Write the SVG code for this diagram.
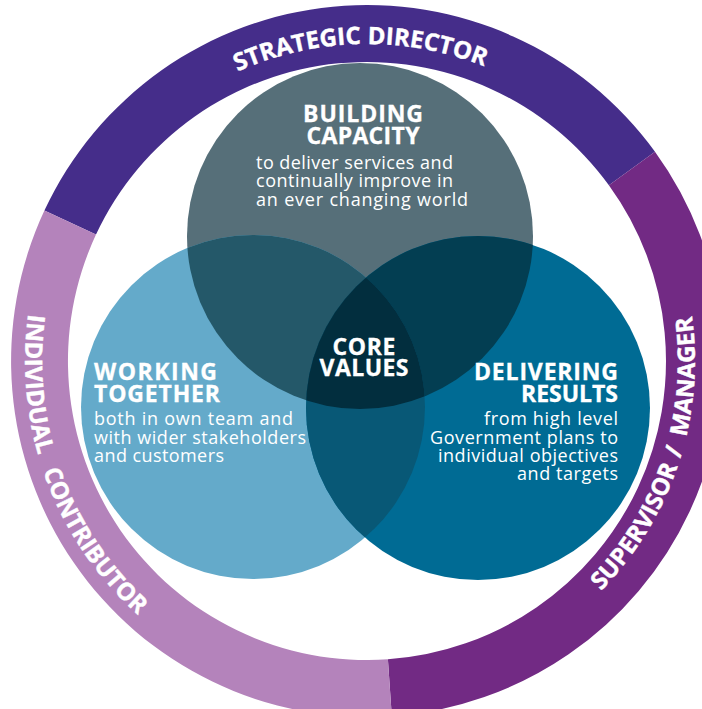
<svg xmlns="http://www.w3.org/2000/svg" xmlns:xlink="http://www.w3.org/1999/xlink" width="702" height="709" viewBox="0 0 702 709">
  <style>
    .ring-label { font-family: "Open Sans", "Liberation Sans", sans-serif; font-weight: 700; font-size: 24px; fill: #ffffff; stroke: #ffffff; stroke-width: 0.4px; }
    .head { font-family: "Open Sans", "Liberation Sans", sans-serif; font-weight: 700; font-size: 23px; fill: #ffffff; stroke: #ffffff; stroke-width: 0.3px; }
    .body { font-family: "Open Sans", "Liberation Sans", sans-serif; font-weight: 400; font-size: 18px; fill: #ffffff; }
    .mid { text-anchor: middle; }
    .end { text-anchor: end; }
  </style>
  <defs>
    <!-- role ring text baselines around the ring centre (367,361) -->
    <path id="arc-top" d="M 50 361 A 317 317 0 0 1 684 361"/>
    <path id="arc-right" d="M 367 689 A 328 328 0 0 0 367 33"/>
    <path id="arc-left" d="M 367 19 A 342 342 0 0 0 367 703"/>
    <clipPath id="clip-top"><circle cx="360" cy="236" r="173"/></clipPath>
    <clipPath id="clip-left"><circle cx="253" cy="407" r="172"/></clipPath>
  </defs>

  <rect width="702" height="709" fill="#ffffff"/>

  <!-- outer role ring: three annular sectors -->
  <g id="strategic-director">
    <path d="M 44.4 210.6 A 356 356 0 0 1 655 151.7 L 608.9 185.3 A 299 299 0 0 0 96 234.6 Z" fill="#452d8a"/>
    <text class="ring-label"><textPath xlink:href="#arc-top" href="#arc-top" startOffset="428" text-anchor="middle">STRATEGIC</textPath></text>
    <text class="ring-label"><textPath xlink:href="#arc-top" href="#arc-top" startOffset="558" text-anchor="middle">DIRECTOR</textPath></text>
  </g>
  <g id="supervisor-manager">
    <path d="M 655 151.7 A 356 356 0 0 1 391.8 716.1 L 387.9 659.3 A 299 299 0 0 0 608.9 185.3 Z" fill="#722a84"/>
    <text class="ring-label"><textPath xlink:href="#arc-right" href="#arc-right" startOffset="334" text-anchor="middle">SUPERVISOR</textPath></text>
    <text class="ring-label"><textPath xlink:href="#arc-right" href="#arc-right" startOffset="421" text-anchor="middle">/</textPath></text>
    <text class="ring-label"><textPath xlink:href="#arc-right" href="#arc-right" startOffset="499" text-anchor="middle">MANAGER</textPath></text>
  </g>
  <g id="individual-contributor">
    <path d="M 391.8 716.1 A 356 356 0 0 1 44.4 210.6 L 96 234.6 A 299 299 0 0 0 387.9 659.3 Z" fill="#b483bb"/>
    <text class="ring-label"><textPath xlink:href="#arc-left" href="#arc-left" startOffset="561" text-anchor="middle">INDIVIDUAL</textPath></text>
    <text class="ring-label"><textPath xlink:href="#arc-left" href="#arc-left" startOffset="736" text-anchor="middle">CONTRIBUTOR</textPath></text>
  </g>

  <!-- Venn circles -->
  <g id="building-capacity">
    <circle cx="360" cy="236" r="173" fill="#566f79"/>
  </g>
  <g id="working-together">
    <circle cx="253" cy="407" r="172" fill="#64aaca"/>
  </g>
  <g id="delivering-results">
    <circle cx="478" cy="408" r="172" fill="#006b94"/>
  </g>

  <!-- overlap regions -->
  <g id="overlaps">
    <circle cx="253" cy="407" r="172" fill="#245869" clip-path="url(#clip-top)"/>
    <circle cx="478" cy="408" r="172" fill="#033e52" clip-path="url(#clip-top)"/>
    <circle cx="478" cy="408" r="172" fill="#085876" clip-path="url(#clip-left)"/>
    <g clip-path="url(#clip-top)">
      <circle cx="478" cy="408" r="172" fill="#022e3e" clip-path="url(#clip-left)"/>
    </g>
  </g>

  <!-- circle labels -->
  <g id="building-capacity-text">
    <text class="head mid" x="363" y="122" textLength="120" lengthAdjust="spacing">BUILDING</text>
    <text class="head mid" x="363" y="144" textLength="113" lengthAdjust="spacing">CAPACITY</text>
    <text class="body" x="256" y="169" textLength="197" lengthAdjust="spacing">to deliver services and</text>
    <text class="body" x="256" y="187" textLength="197" lengthAdjust="spacing">continually improve in</text>
    <text class="body" x="256" y="206" textLength="212" lengthAdjust="spacing">an ever changing world</text>
  </g>
  <g id="core-values">
    <text class="head mid" x="364" y="355" textLength="63" lengthAdjust="spacing">CORE</text>
    <text class="head mid" x="364" y="376" textLength="89" lengthAdjust="spacing">VALUES</text>
  </g>
  <g id="working-together-text">
    <text class="head" x="94" y="380" textLength="123" lengthAdjust="spacing">WORKING</text>
    <text class="head" x="94" y="402" textLength="126" lengthAdjust="spacing">TOGETHER</text>
    <text class="body" x="94" y="425" textLength="199" lengthAdjust="spacing">both in own team and</text>
    <text class="body" x="94" y="444" textLength="212" lengthAdjust="spacing">with wider stakeholders</text>
    <text class="body" x="94" y="462" textLength="130" lengthAdjust="spacing">and customers</text>
  </g>
  <g id="delivering-results-text">
    <text class="head end" x="618" y="380" textLength="144" lengthAdjust="spacing">DELIVERING</text>
    <text class="head end" x="618" y="402" textLength="97" lengthAdjust="spacing">RESULTS</text>
    <text class="body end" x="618" y="425" textLength="134" lengthAdjust="spacing">from high level</text>
    <text class="body end" x="618" y="444" textLength="188" lengthAdjust="spacing">Government plans to</text>
    <text class="body end" x="618" y="462" textLength="180" lengthAdjust="spacing">individual objectives</text>
    <text class="body end" x="618" y="480" textLength="101" lengthAdjust="spacing">and targets</text>
  </g>
</svg>
